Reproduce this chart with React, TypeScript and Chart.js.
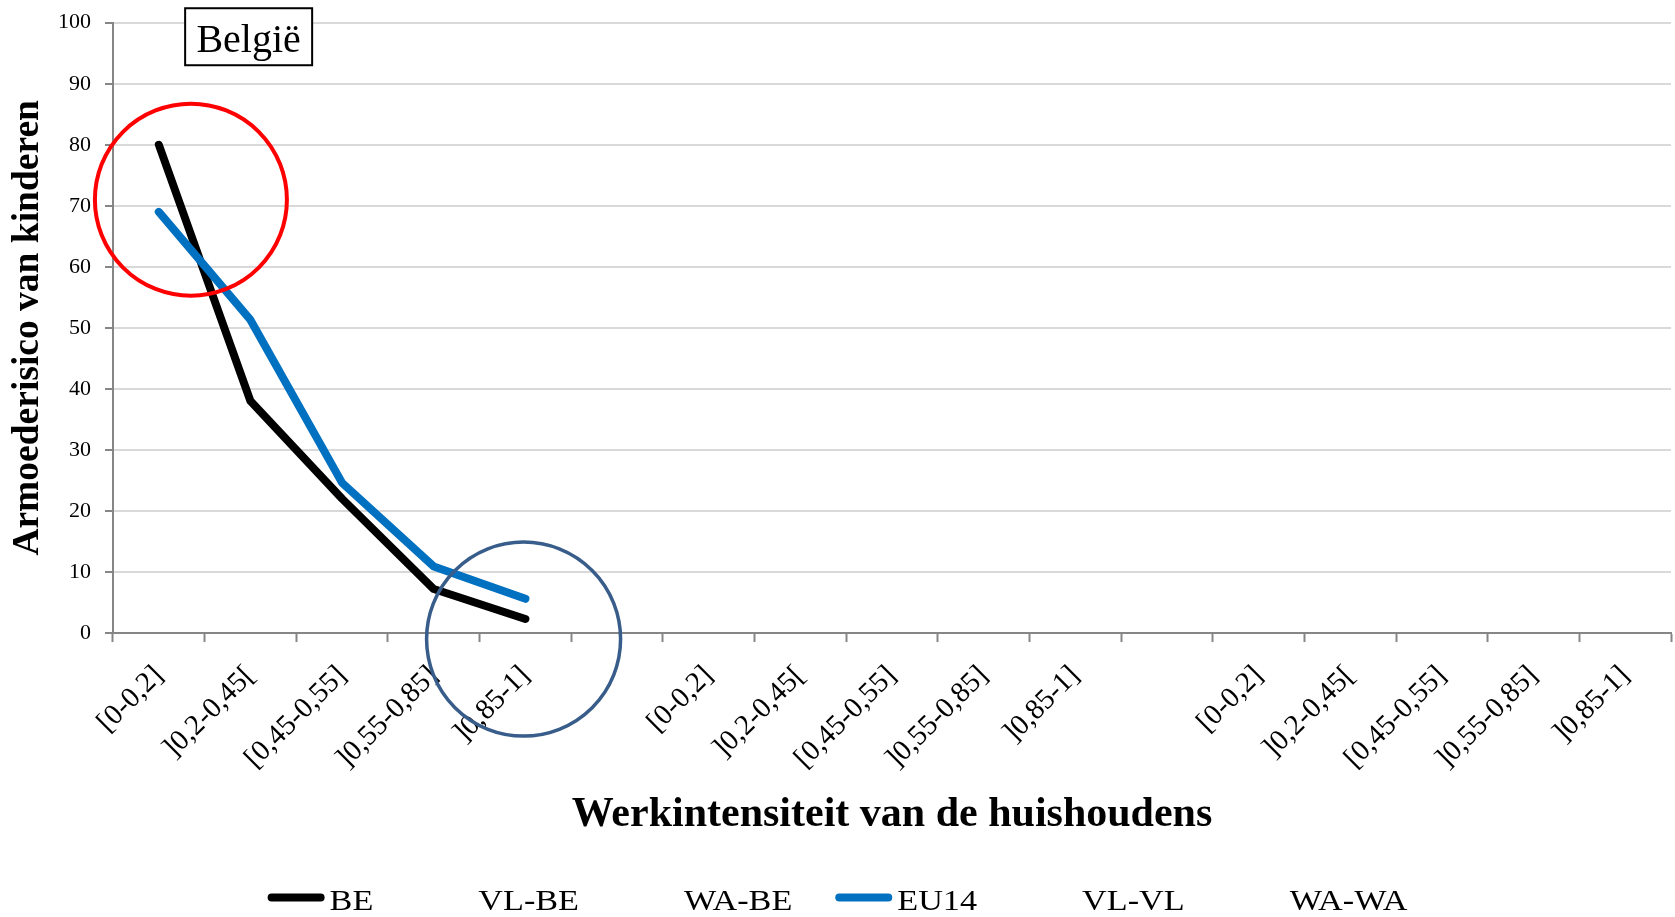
import React, { useEffect, useRef } from "react";
import { Chart, registerables } from "chart.js";

Chart.register(...registerables);

// ---- data ----
const categories: string[] = [
  "[0-0,2]", "]0,2-0,45[", "[0,45-0,55]", "]0,55-0,85]", "]0,85-1]",
  "",
  "[0-0,2]", "]0,2-0,45[", "[0,45-0,55]", "]0,55-0,85]", "]0,85-1]",
  "",
  "[0-0,2]", "]0,2-0,45[", "[0,45-0,55]", "]0,55-0,85]", "]0,85-1]",
];

const seriesNames: string[] = ["BE", "VL-BE", "WA-BE", "EU14", "VL-VL", "WA-WA"];
const beValues: (number | null)[] = [80, 38, 22, 7.2, 2.3];
const vlBeValues: (number | null)[] = [];
const waBeValues: (number | null)[] = [];
const eu14Values: (number | null)[] = [69, 51.3, 24.6, 10.9, 5.6];
const vlVlValues: (number | null)[] = [];
const waWaValues: (number | null)[] = [];
const seriesValues = [beValues, vlBeValues, waBeValues, eu14Values, vlVlValues, waWaValues];
const seriesColors: (string | null)[] = ["#000000", null, null, "#0070C0", null, null];

const yMin = 0;
const yMax = 100;
const yStep = 10;

const xTitle = "Werkintensiteit van de huishoudens";
const yTitle = "Armoederisico van kinderen";
const boxLabel = "België";

// annotation anchors (in data coordinates)
const circles = [
  { xIndex: 0.35, yValue: 71, radius: 96, color: "#FF0000", width: 4 },
  { xIndex: 3.98, yValue: -1, radius: 97, color: "#385D8A", width: 3.5 },
];
const labelBox = { xIndex: 0.98, yValue: 97.7, w: 127, h: 57 };

const FONT = "'Liberation Serif', 'Times New Roman', serif";

const annotationPlugin = {
  id: "annotations",
  afterDraw(chart: any) {
    const { ctx } = chart;
    const xs = chart.scales.x;
    const ys = chart.scales.y;
    ctx.save();
    // circles
    for (const c of circles) {
      ctx.beginPath();
      ctx.arc(xs.getPixelForValue(c.xIndex), ys.getPixelForValue(c.yValue), c.radius, 0, Math.PI * 2);
      ctx.lineWidth = c.width;
      ctx.strokeStyle = c.color;
      ctx.stroke();
    }
    // België box
    const bx = xs.getPixelForValue(labelBox.xIndex) - labelBox.w / 2;
    const by = ys.getPixelForValue(labelBox.yValue) - labelBox.h / 2;
    ctx.fillStyle = "#FFFFFF";
    ctx.fillRect(bx, by, labelBox.w, labelBox.h);
    ctx.lineWidth = 2;
    ctx.strokeStyle = "#000000";
    ctx.strokeRect(bx, by, labelBox.w, labelBox.h);
    ctx.fillStyle = "#000000";
    ctx.font = `40px ${FONT}`;
    ctx.textAlign = "center";
    ctx.textBaseline = "alphabetic";
    ctx.fillText(boxLabel, bx + labelBox.w / 2, by + 44);

    // custom legend
    const fs = 30;
    const sx = 1.14;
    ctx.font = `${fs}px ${FONT}`;
    ctx.textAlign = "left";
    const symW = 62;
    const spacing = 43;
    const widths = seriesNames.map((n) => ctx.measureText(n).width * sx);
    const total = widths.reduce((a, b) => a + b + symW, 0) + spacing * (seriesNames.length - 1);
    let x = chart.width / 2 - total / 2;
    const baseY = 910;
    const lineY = 897.5;
    seriesNames.forEach((name, i) => {
      const col = seriesColors[i];
      if (col) {
        ctx.beginPath();
        ctx.moveTo(x + 4, lineY);
        ctx.lineTo(x + 53, lineY);
        ctx.lineWidth = 8;
        ctx.lineCap = "round";
        ctx.strokeStyle = col;
        ctx.stroke();
      }
      ctx.save();
      ctx.translate(x + symW, baseY);
      ctx.scale(sx, 1);
      ctx.fillStyle = "#000000";
      ctx.fillText(name, 0, 0);
      ctx.restore();
      x += symW + widths[i] + spacing;
    });
    ctx.restore();
  },
};

export default function App() {
  const canvasRef = useRef<HTMLCanvasElement | null>(null);

  useEffect(() => {
    document.body.style.margin = "0";
    const canvas = canvasRef.current;
    if (!canvas) return;
    const chart = new Chart(canvas, {
      type: "line",
      data: {
        labels: categories,
        datasets: seriesNames.map((name, i) => ({
          label: name,
          data: seriesValues[i],
          borderColor: seriesColors[i] || "rgba(0,0,0,0)",
          backgroundColor: seriesColors[i] || "rgba(0,0,0,0)",
          borderWidth: 8,
          pointRadius: 0,
          pointHoverRadius: 0,
          borderCapStyle: "round",
          borderJoinStyle: "round",
          tension: 0,
          fill: false,
          order: name === "EU14" ? -1 : 0,
        })),
      },
      options: {
        responsive: false,
        animation: false,
        devicePixelRatio: 1,
        layout: { padding: { top: 22.7, right: 4, bottom: 60, left: 0 } },
        plugins: {
          legend: { display: false },
          tooltip: { enabled: false },
        },
        scales: {
          x: {
            type: "category",
            offset: true,
            grid: {
              offset: true,
              drawOnChartArea: false,
              drawTicks: true,
              tickLength: 9,
              tickColor: "#868686",
              tickWidth: 2,
            },
            border: { color: "#868686", width: 2 },
            ticks: {
              autoSkip: false,
              maxRotation: 45,
              minRotation: 45,
              padding: 17,
              color: "#000000",
              font: { family: FONT, size: 29 },
            },
            title: {
              display: true,
              text: xTitle,
              color: "#000000",
              font: { family: FONT, size: 42, weight: "bold" },
              padding: { top: 0, bottom: 17 },
            },
            afterFit: (s: any) => {
              s.height = 224;
            },
          },
          y: {
            min: yMin,
            max: yMax,
            ticks: {
              stepSize: yStep,
              padding: 14,
              color: "#000000",
              font: { family: FONT, size: 22, lineHeight: 0.6 },
            },
            grid: {
              color: "#D9D9D9",
              lineWidth: 2,
              tickLength: 8,
              tickColor: "#868686",
              tickWidth: 2,
            },
            border: { color: "#868686", width: 2 },
            title: {
              display: true,
              text: yTitle,
              color: "#000000",
              font: { family: FONT, size: 37.5, weight: "bold" },
              padding: { top: 6, bottom: 0 },
            },
            afterFit: (s: any) => {
              s.width = 113;
            },
          },
        },
      } as any,
      plugins: [annotationPlugin],
    });
    return () => chart.destroy();
  }, []);

  return (
    <div style={{ width: 1675, height: 917 }}>
      <canvas ref={canvasRef} width={1675} height={917} style={{ display: "block" }} />
    </div>
  );
}
